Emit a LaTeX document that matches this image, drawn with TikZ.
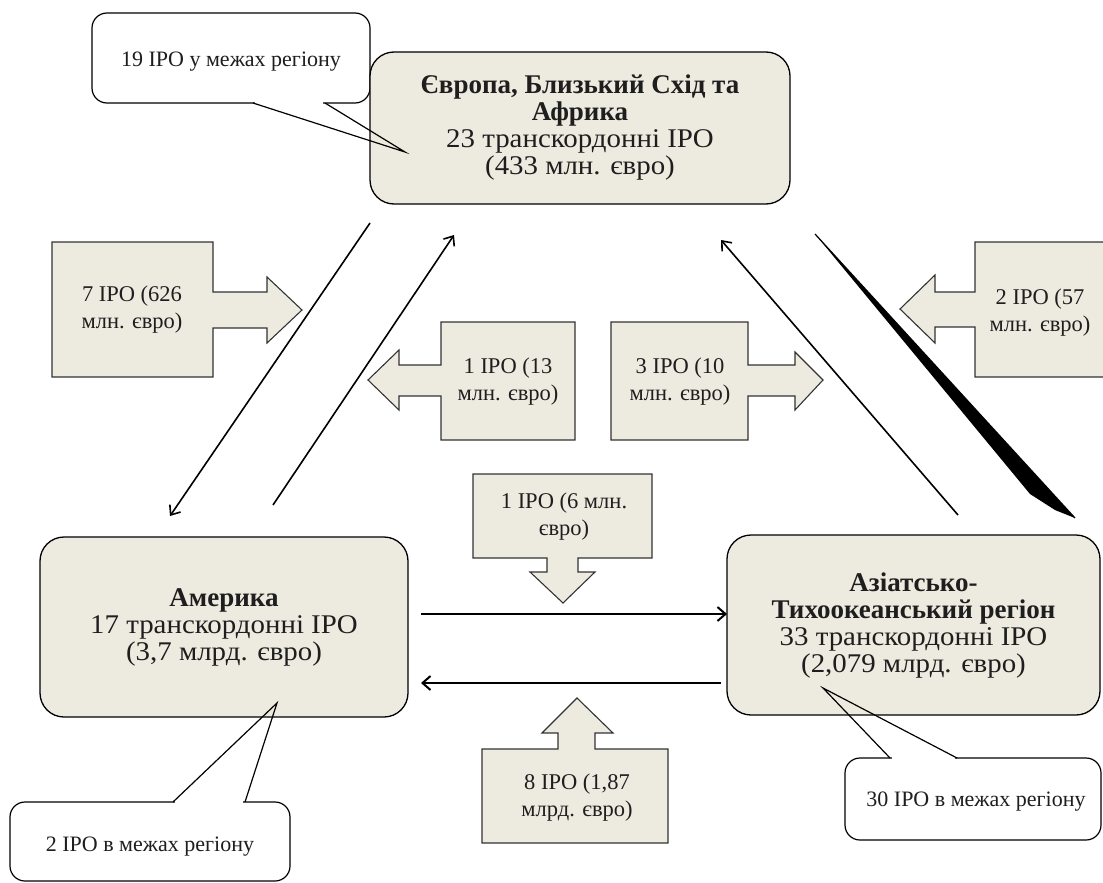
\documentclass[tikz,border=0pt]{standalone}
\usepackage{fontspec}
\setmainfont{Liberation Serif}
\newfontfamily\regionfont[FakeStretch=1.07]{Liberation Serif}
\newfontfamily\regionbold[FakeStretch=1.0]{Liberation Serif}
\newcommand{\rtitle}[1]{{\regionbold\bfseries #1}}
\usetikzlibrary{arrows.meta}
\definecolor{beige}{HTML}{EDEAE0}
\definecolor{edgec}{HTML}{333333}
\definecolor{txt}{HTML}{1E1E1E}
\begin{document}
\begin{tikzpicture}[x=1pt,y=-1pt,
  regionbox/.style={draw=black,line width=1.3pt,fill=beige,rounded corners=24pt,inner sep=0pt,align=center,text=txt,font=\regionfont\fontsize{27}{27}\selectfont},
  calloutbox/.style={draw=black,line width=1.2pt,fill=white,rounded corners=15pt,inner sep=0pt},
  callouttext/.style={inner sep=0pt,align=center,text=txt,font=\fontsize{22}{26}\selectfont},
  blockarrow/.style={draw=edgec,line width=1.1pt,fill=beige},
  blocklabel/.style={inner sep=0pt,align=center,text=txt,font=\fontsize{22.5}{27}\selectfont},
  tailline/.style={draw=black,line width=1.2pt},
  diagarrow/.style={line width=1.6pt,-{Straight Barb[length=8pt,width=13pt,line width=1.6pt]}},
  horarrow/.style={line width=2.6pt,-{Straight Barb[length=8pt,width=14pt,line width=2pt]}}
]
\useasboundingbox (0,0) rectangle (1103,883);
\clip (0,0) rectangle (1103,883);

% callout 1 box (behind Europe box)
\node[calloutbox,minimum width=278pt,minimum height=90pt] (co1) at (231,58) {};
\node[callouttext] (co1t) at (231,62) {19 IPO у межах регіону};
\draw[white,line width=2pt] (255,103) -- (323,103);

% region boxes
\node[regionbox,minimum width=420pt,minimum height=152pt] (eu) at (580,128)
  {\rtitle{Європа, Близький Схід та}\\\rtitle{Африка}\\23 транскордонні IPO\\(433 млн. євро)};
\node[regionbox,minimum width=368pt,minimum height=180pt] (am) at (224,627)
  {\rtitle{Америка}\\17 транскордонні IPO\\(3,7 млрд. євро)};
\node[regionbox,minimum width=373pt,minimum height=180pt] (as) at (913.5,625)
  {\rtitle{Азіатсько-}\\\rtitle{Тихоокеанський регіон}\\33 транскордонні IPO\\(2,079 млрд. євро)};

% callout 1 tail
\coordinate (t1a) at (253,103);
\coordinate (t1b) at (325,103);
\coordinate (t1tip) at (405,152);
\draw[tailline] (t1a) -- (t1tip) -- (t1b);

% callout 2
\node[calloutbox,minimum width=280pt,minimum height=79pt] (co2) at (150,841.5) {};
\node[callouttext] (co2t) at (150,847) {2 IPO в межах регіону};
\draw[white,line width=2pt] (175,802) -- (243,802);
\coordinate (t2a) at (173,802);
\coordinate (t2b) at (245,802);
\coordinate (t2tip) at (277,703);
\draw[tailline] (t2a) -- (t2tip) -- (t2b);

% callout 3
\node[calloutbox,minimum width=256pt,minimum height=82pt] (co3) at (973,799) {};
\node[callouttext] (co3t) at (976,802) {30 IPO в межах регіону};
\draw[white,line width=2pt] (892,758) -- (955,758);
\coordinate (t3a) at (890,758);
\coordinate (t3b) at (957,758);
\coordinate (t3tip) at (823,688);
\draw[tailline] (t3a) -- (t3tip) -- (t3b);

% block arrows
\draw[blockarrow] (52,242) -- (213,242) -- (213,292) -- (267,292) -- (267,277) -- (302,310) -- (267,343) -- (267,328) -- (213,328) -- (213,377) -- (52,377) -- cycle;
\node[blocklabel] (ba) at (132,310) {7 IPO (626\\млн. євро)};

\draw[blockarrow] (575,322) -- (441,322) -- (441,365) -- (399,365) -- (399,350) -- (368,380) -- (399,410) -- (399,396) -- (441,396) -- (441,440) -- (575,440) -- cycle;
\node[blocklabel] (bb) at (508,382) {1 IPO (13\\млн. євро)};

\draw[blockarrow] (611,322) -- (748,322) -- (748,365) -- (795,365) -- (795,352) -- (823,380) -- (795,410) -- (795,396) -- (748,396) -- (748,440) -- (611,440) -- cycle;
\node[blocklabel] (bc) at (680,382) {3 IPO (10\\млн. євро)};

\draw[blockarrow] (1115,242) -- (975,242) -- (975,292) -- (935,292) -- (935,275) -- (900,309) -- (935,343) -- (935,327) -- (975,327) -- (975,377) -- (1115,377) -- cycle;
\node[blocklabel] (bd) at (1040,313) {2 IPO (57\\млн. євро)};

\draw[blockarrow] (473,474) -- (652,474) -- (652,558) -- (578,558) -- (578,572) -- (595,572) -- (563,603) -- (530,572) -- (547,572) -- (547,558) -- (473,558) -- cycle;
\node[blocklabel] (be) at (564,517) {1 IPO (6 млн.\\євро)};

\draw[blockarrow] (482,843) -- (482,749) -- (558,749) -- (558,733) -- (542,733) -- (577,698) -- (613,733) -- (595,733) -- (595,749) -- (668,749) -- (668,843) -- cycle;
\node[blocklabel] (bf) at (577,798) {8 IPO (1,87\\млрд. євро)};

% diagonal connectors
\coordinate (l1s) at (370,223);
\coordinate (l1e) at (170,516);
\draw[diagarrow] (l1s) -- (l1e);
\coordinate (l2s) at (273,505);
\coordinate (l2e) at (454,235);
\draw[diagarrow] (l2s) -- (l2e);
\coordinate (r1s) at (958,515);
\coordinate (r1e) at (721,240);
\draw[diagarrow] (r1s) -- (r1e);
% thick wedge
\coordinate (w1) at (815,234);
\coordinate (w2) at (1075,518);
\fill[black] (w1) -- (w2) -- (1055,510) -- (1030,494) -- cycle;
\draw[line width=1.2pt] (w1) -- (w2);

% horizontal connectors
\coordinate (h1s) at (421,614);
\coordinate (h1e) at (727,614);
\draw[horarrow] (h1s) -- (h1e);
\coordinate (h2s) at (721,683);
\coordinate (h2e) at (421,683);
\draw[horarrow] (h2s) -- (h2e);
\end{tikzpicture}
\end{document}
